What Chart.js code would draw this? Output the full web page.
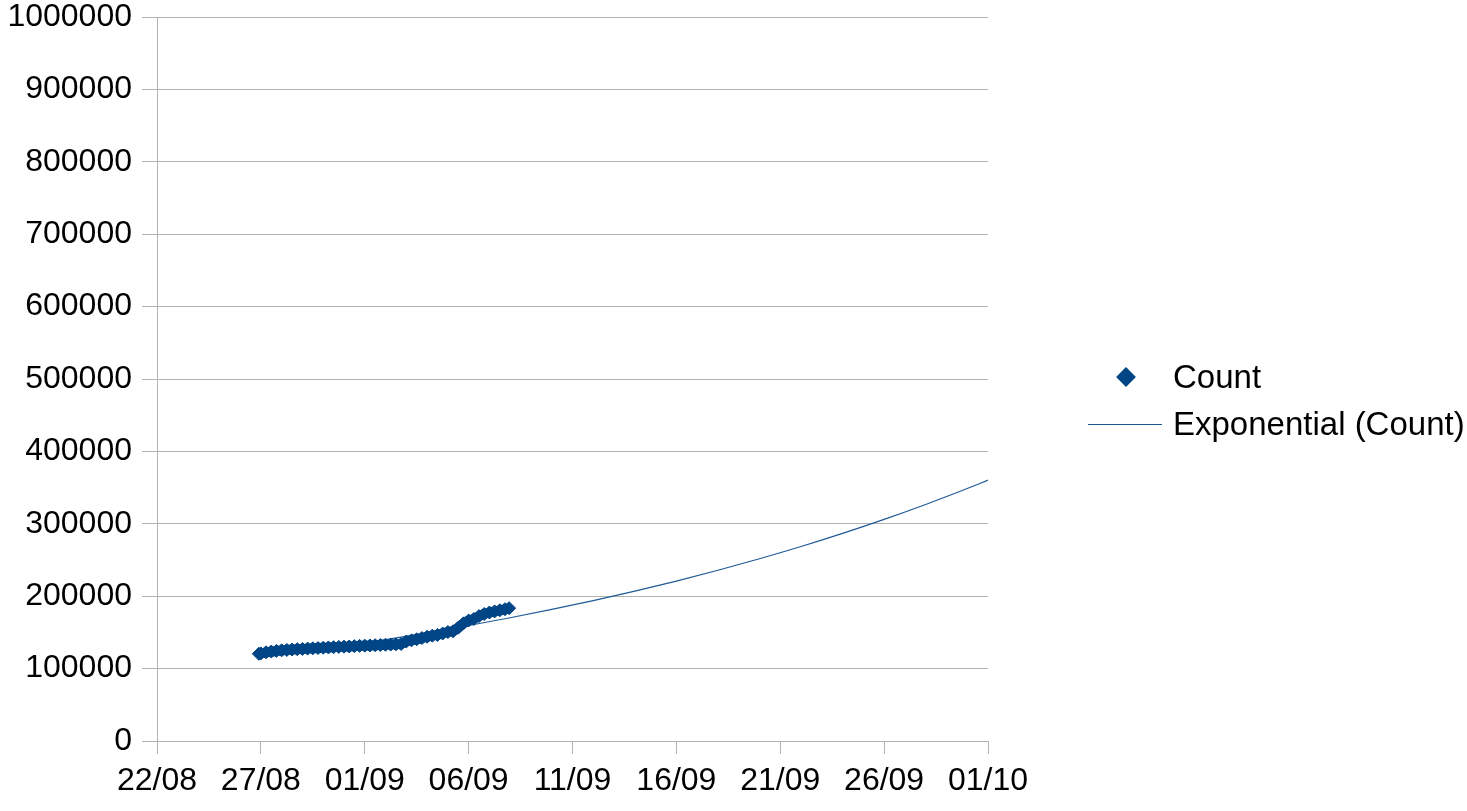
<!DOCTYPE html>
<html>
<head>
<meta charset="utf-8">
<script src="https://cdn.jsdelivr.net/npm/chart.js@4"></script>
<style>
  body { margin: 0; background: #fff; font-family: "Liberation Sans", Arial, sans-serif; }
  #wrap { position: relative; width: 1467px; height: 811px; }
  .legend-item { position: absolute; left: 1173px; font-size: 33px; line-height: 33px; color: #000; }
  #diamond { position: absolute; left: 1119px; top: 370px; width: 14px; height: 14px; background: #004586; transform: rotate(45deg); }
  #trendKey { position: absolute; left: 1088px; top: 424px; width: 74px; height: 1px; background: #1f5a96; }
</style>
</head>
<body>
<div id="wrap">
  <canvas id="myChart" width="1467" height="811"></canvas>
  <div id="diamond"></div>
  <div class="legend-item" style="top:360px">Count</div>
  <div id="trendKey"></div>
  <div class="legend-item" style="top:407px">Exponential (Count)</div>
</div>
<script>
// days counted from 22/08
const xTickLabels = ['22/08', '27/08', '01/09', '06/09', '11/09', '16/09', '21/09', '26/09', '01/10'];

const countDays = [4.9, 5.0, 5.25, 5.5, 5.75, 6.0, 6.25, 6.5, 6.75, 7.0, 7.25, 7.5, 7.75, 8.0,
    8.25, 8.5, 8.75, 9.0, 9.25, 9.5, 9.75, 10.0, 10.25, 10.5, 10.75, 11.0, 11.25, 11.5, 11.75,
    12.0, 12.25, 12.5, 12.75, 13.0, 13.25, 13.5, 13.75, 14.0, 14.25, 14.5, 14.75, 15.0, 15.25,
    15.5, 15.75, 16.0, 16.25, 16.5, 16.75, 16.95];
const countValues = [120500, 121000, 122500, 123500, 124500, 125200, 125800, 126300, 126800, 127200,
    127600, 128000, 128400, 128800, 129200, 129600, 130000, 130300, 130600, 131000, 131400, 131700,
    132000, 132300, 132600, 132900, 133200, 133500, 134000, 137500, 139000, 140500, 142200, 144000,
    145500, 146500, 148500, 150500, 151500, 156500, 162500, 166500, 168500, 172500, 175500, 177500,
    179000, 180500, 182000, 183500];

const trendDays = [4.9, 7, 9, 11, 13, 15, 17, 19, 21, 23, 25, 27, 29, 31, 33, 35, 37, 39, 40];
const trendValues = [114700, 122900, 131100, 140000, 149400, 159500, 170200, 181700, 193900, 207000,
    220900, 235800, 251700, 268600, 286700, 306100, 326700, 348700, 360300];

const ctx = document.getElementById('myChart');
const gridColor = '#b3b3b3';
const fontFamily = '"Liberation Sans", Arial, sans-serif';

new Chart(ctx, {
    type: 'scatter',
    data: {
        datasets: [{
            label: 'Exponential (Count)',
            data: trendDays.map((d, i) => ({ x: d, y: trendValues[i] })),
            showLine: true,
            borderColor: '#1f5a96',
            borderWidth: 1.2,
            pointRadius: 0,
            cubicInterpolationMode: 'monotone',
            order: 1
        }, {
            label: 'Count',
            data: countDays.map((d, i) => ({ x: d, y: countValues[i] })),
            pointStyle: 'rectRot',
            pointRadius: 6.5,
            pointBackgroundColor: '#004586',
            pointBorderColor: '#004586',
            pointBorderWidth: 1,
            // the real points sit so close they merge into a thick band
            showLine: true,
            borderColor: '#004586',
            borderWidth: 10,
            borderJoinStyle: 'round',
            order: 0
        }]
    },
    options: {
        responsive: false,
        animation: false,
        layout: { padding: { top: 17, right: 479, bottom: 0, left: 0 } },
        plugins: {
            legend: { display: false },
            tooltip: { enabled: false }
        },
        scales: {
            x: {
                type: 'linear',
                min: 0,
                max: 40,
                afterFit: (scale) => { scale.height = 70; },
                ticks: {
                    stepSize: 5,
                    color: '#000',
                    font: { family: fontFamily, size: 32 },
                    padding: 8,
                    maxRotation: 0,
                    callback: (v) => xTickLabels[v / 5]
                },
                grid: { drawOnChartArea: false, color: gridColor, tickLength: 13 },
                border: { color: gridColor }
            },
            y: {
                min: 0,
                max: 1000000,
                afterFit: (scale) => { scale.width = 157; },
                ticks: {
                    stepSize: 100000,
                    color: '#000',
                    // small lineHeight so the top label does not push the plot down
                    font: { family: fontFamily, size: 32, lineHeight: 0.4 },
                    padding: 10,
                    callback: (v) => String(v)
                },
                grid: { color: gridColor, tickLength: 15 },
                border: { color: gridColor }
            }
        }
    }
});
</script>
</body>
</html>
